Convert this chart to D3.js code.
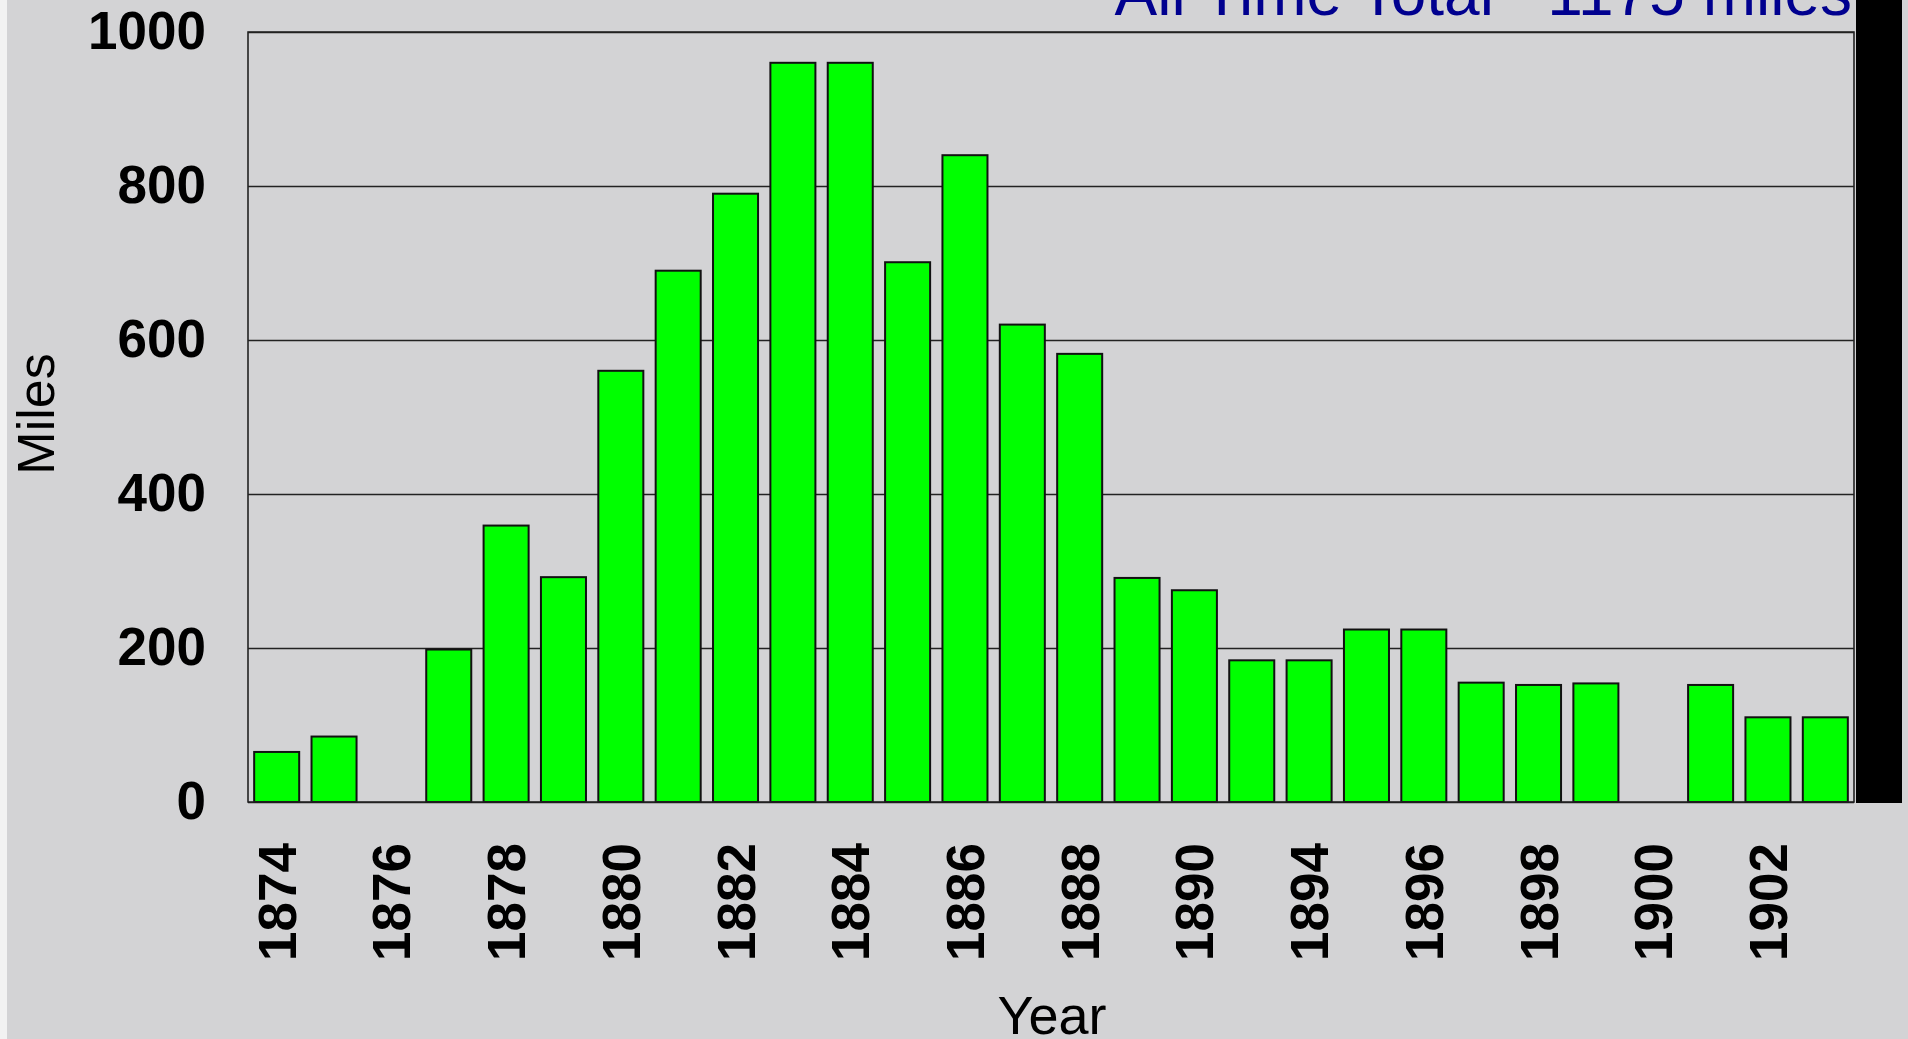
<!DOCTYPE html>
<html>
<head>
<meta charset="utf-8">
<script src="https://cdn.jsdelivr.net/npm/d3@7"></script>
<style>
  html, body { margin: 0; padding: 0; background: #d3d3d5; overflow: hidden; }
  svg { display: block; font-family: "Liberation Sans", Arial, sans-serif; }
</style>
</head>
<body>
<svg id="chart"></svg>
<script>
// years shown on the chart (one bar each)
var years = ["1874", "1875", "1876", "1877", "1878", "1879", "1880", "1881", "1882",
             "1883", "1884", "1885", "1886", "1887", "1888", "1889", "1890", "1892",
             "1894", "1895", "1896", "1897", "1898", "1899", "1900", "1901", "1902", "1903"];
// miles per year
var miles = [65, 85, 0, 198, 359, 292, 560, 690, 790,
             960, 960, 701, 840, 620, 582, 291, 275, 184,
             184, 224, 224, 155, 152, 154, 0, 152, 110, 110];
var yTicks = [0, 200, 400, 600, 800, 1000];
var xTickLabels = ["1874", "1876", "1878", "1880", "1882", "1884", "1886", "1888",
                   "1890", "1894", "1896", "1898", "1900", "1902"];
var titleText = "All Time Total   1175 miles";

var W = 1908, H = 1039;
var margin = {top: 32, right: 54, bottom: 237, left: 248},
    width = W - margin.left - margin.right,
    height = H - margin.top - margin.bottom;

var svg = d3.select("#chart").attr("width", W).attr("height", H);

// page background + left white strip
svg.append("rect").attr("width", W).attr("height", H).attr("fill", "#d3d3d5");
svg.append("rect").attr("width", 7).attr("height", H).attr("fill", "#f2f2f2");

// black block at the right edge
svg.append("rect")
  .attr("x", margin.left + width + 2).attr("y", 0)
  .attr("width", 46).attr("height", margin.top + height + 1)
  .attr("fill", "#000");

var data = years.map(function(d, i) { return {year: d, miles: miles[i]}; });

var x = d3.scaleBand()
  .domain(years)
  .range([0, width])
  .paddingInner(0.215)
  .paddingOuter(0.1075);

var y = d3.scaleLinear()
  .domain([0, 1000])
  .range([height, 0]);

var g = svg.append("g")
  .attr("transform", `translate(${margin.left}, ${margin.top})`);

// gridlines
g.append("g")
  .attr("class", "grid")
  .call(d3.axisLeft(y).tickValues(yTicks).tickSize(-width).tickFormat(""))
  .call(s => s.select(".domain").remove())
  .call(s => s.selectAll("line").attr("stroke", "#222").attr("stroke-width", 1.3));

// bars
g.append("g")
  .selectAll("rect")
  .data(data.filter(d => d.miles > 0))
  .enter().append("rect")
  .attr("x", d => x(d.year))
  .attr("y", d => y(d.miles))
  .attr("width", x.bandwidth())
  .attr("height", d => y(0) - y(d.miles))
  .attr("fill", "#00ff00")
  .attr("stroke", "#111")
  .attr("stroke-width", 2);

// frame
g.append("path")
  .attr("d", `M0,${height}V0H${width}V${height}Z`)
  .attr("fill", "none")
  .attr("stroke", "#222")
  .attr("stroke-width", 1.6);

// y axis labels
g.append("g")
  .call(d3.axisLeft(y).tickValues(yTicks).tickSize(0).tickPadding(42).tickFormat(d3.format("d")))
  .call(s => s.select(".domain").remove())
  .call(s => s.selectAll("text")
    .attr("fill", "#000")
    .style("font-size", "53px")
    .style("font-weight", "bold")
    .style("font-family", "'Liberation Sans', Arial, sans-serif"));

// x axis labels (every other year)
g.append("g")
  .attr("transform", `translate(0, ${height})`)
  .call(d3.axisBottom(x).tickValues(xTickLabels).tickSize(0).tickFormat(d => d))
  .call(s => s.select(".domain").remove())
  .call(s => s.selectAll("text")
    .attr("fill", "#000")
    .attr("transform", "rotate(-90)")
    .attr("x", -41)
    .attr("y", 0)
    .attr("dy", "0.36em")
    .attr("text-anchor", "end")
    .style("font-size", "53px")
    .style("font-weight", "bold")
    .style("font-family", "'Liberation Sans', Arial, sans-serif"));

// axis titles
svg.append("text")
  .attr("transform", "translate(54, 414) rotate(-90)")
  .attr("text-anchor", "middle")
  .style("font-size", "52px")
  .attr("fill", "#000")
  .text("Miles");

svg.append("text")
  .attr("x", 1052).attr("y", 1034)
  .attr("text-anchor", "middle")
  .style("font-size", "54px")
  .attr("fill", "#000")
  .text("Year");

// title, cut off by the top edge
svg.append("text")
  .attr("x", 1852).attr("y", 15)
  .attr("text-anchor", "end")
  .attr("xml:space", "preserve")
  .style("white-space", "pre")
  .style("font-size", "64px")
  .attr("fill", "#00008f")
  .text(titleText);
</script>
</body>
</html>
